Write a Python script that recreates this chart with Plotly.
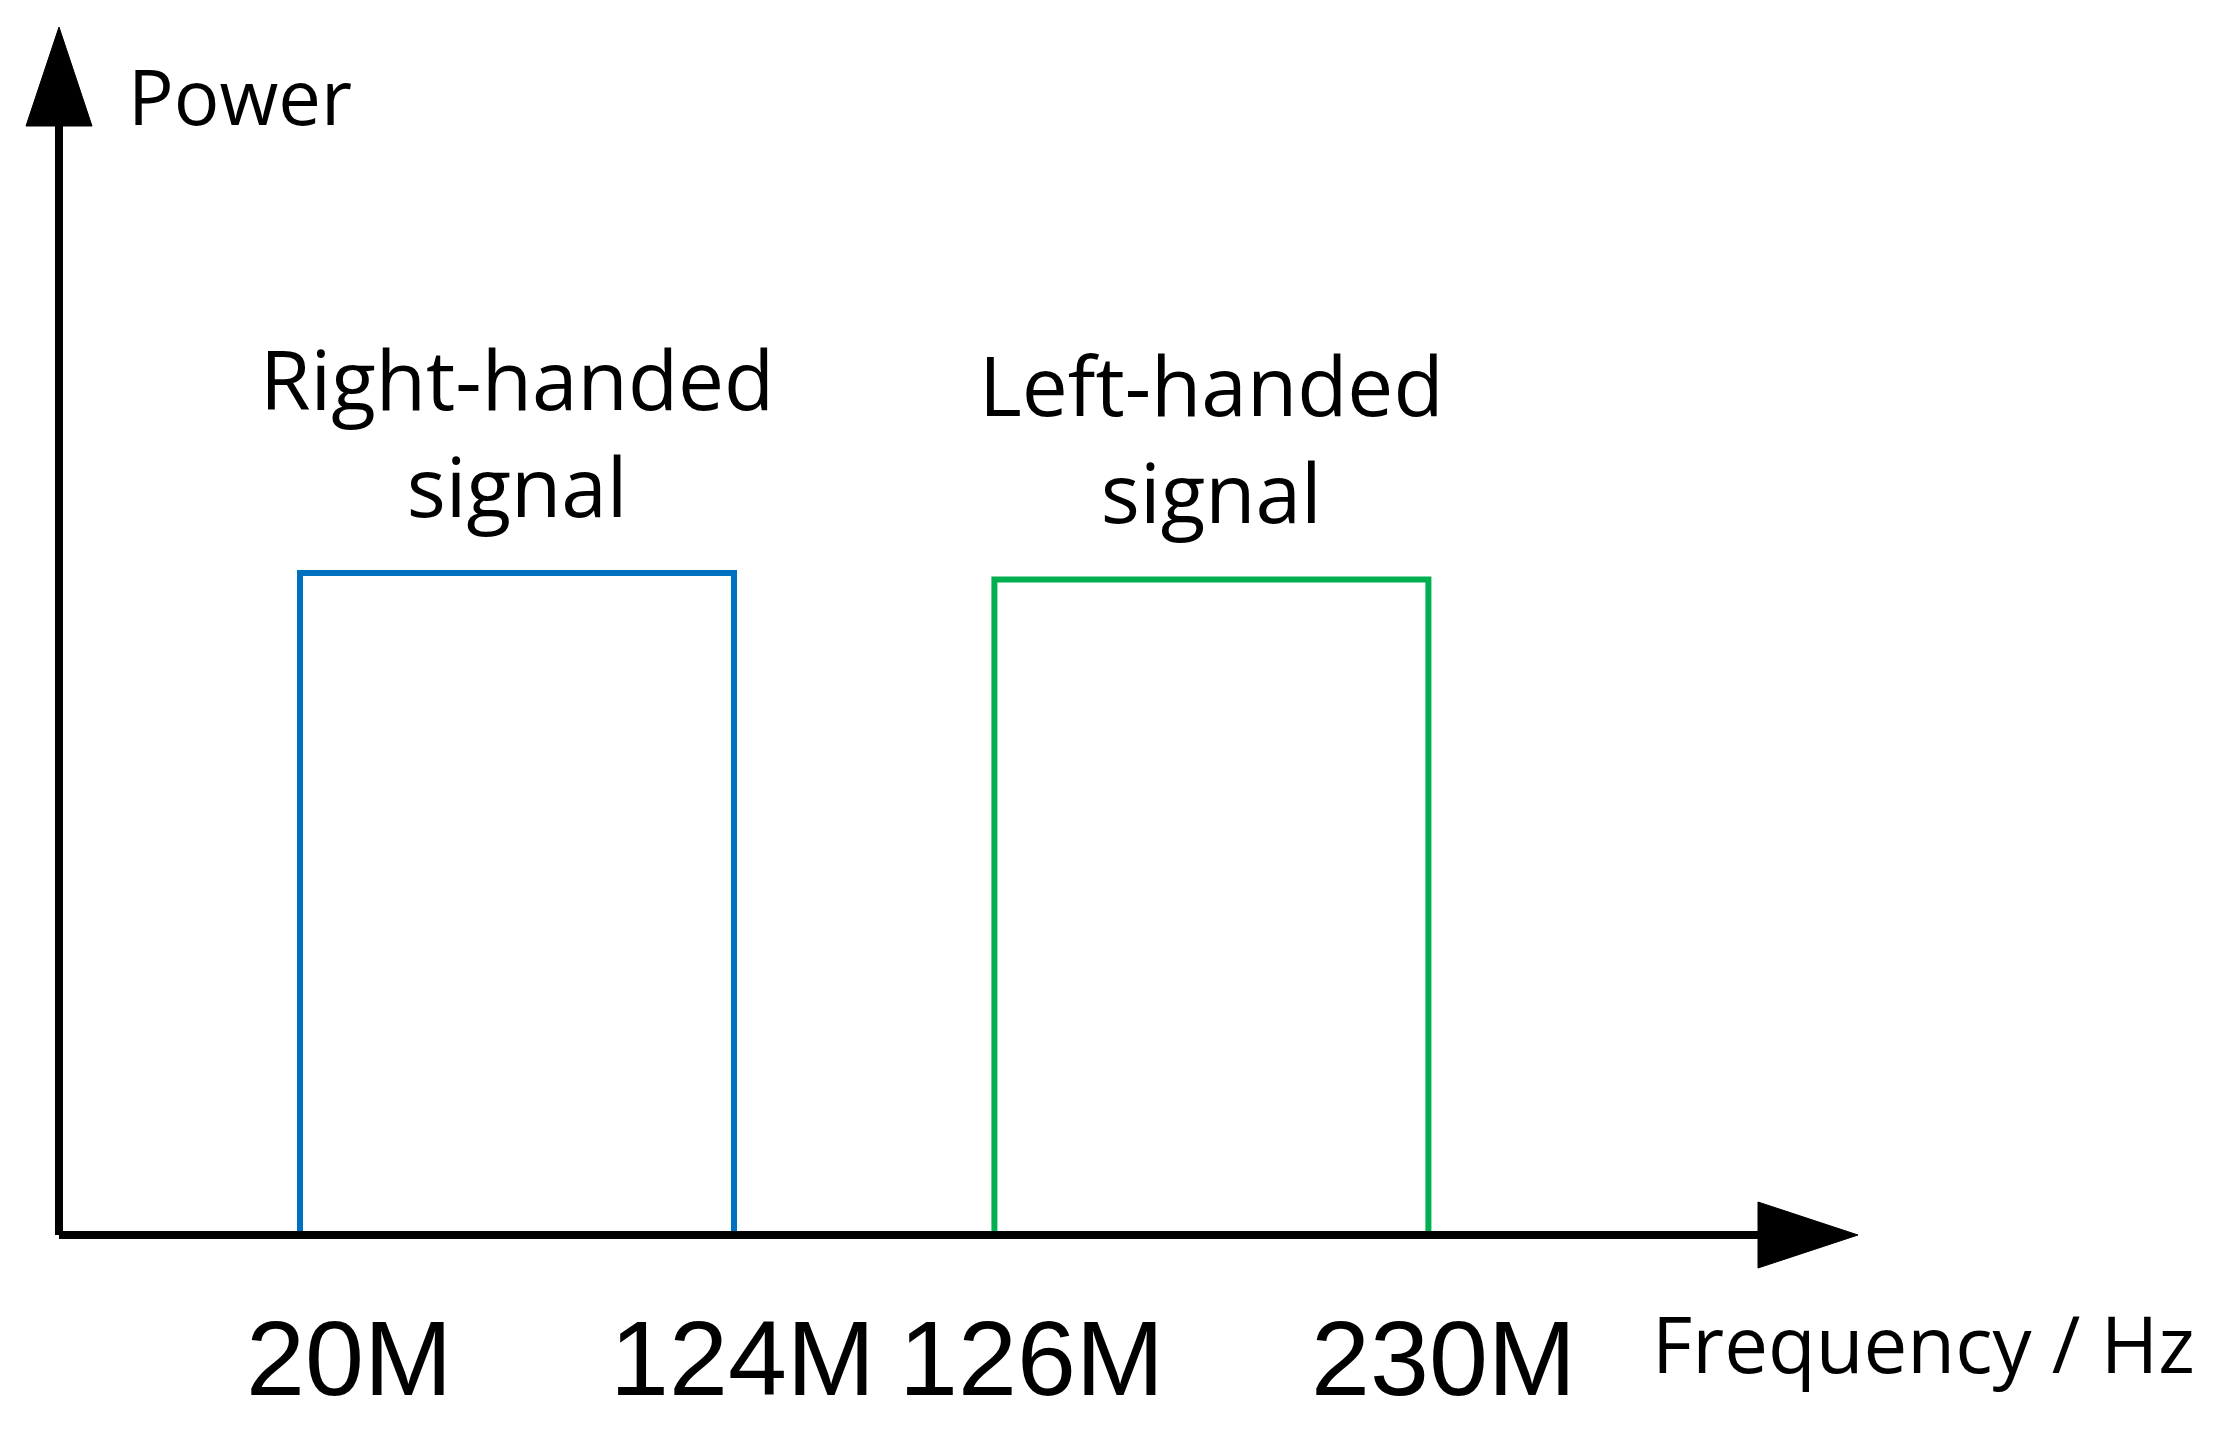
import plotly.graph_objects as go

# band data (frequency edges in MHz, relative power)
band_names = ["Right-handed<br>signal", "Left-handed<br>signal"]
band_lo = [20, 126]
band_hi = [124, 230]
band_power = [1.0, 0.99]
band_colors = ["#0070C0", "#00B050"]
edge_labels = ["20M", "124M", "126M", "230M"]

# schematic (not to scale) x position for each band edge
schem = {20: 0.0, 124: 1.0, 126: 1.6, 230: 2.6}
label_shift = [49, 8, 37, 15]

W, H = 2218, 1432
OFF = 8        # page body margin
px_x = 434.0   # pixels per x unit
px_y = 662.0   # pixels per y unit
x0_px, y0_px = 300 - OFF, 1235 - OFF
x_range = [-x0_px / px_x, (W - x0_px) / px_x]
y_range = [-(H - y0_px) / px_y, y0_px / px_y]

fig = go.Figure()

for name, lo, hi, p, c in zip(band_names, band_lo, band_hi, band_power, band_colors):
    xs = [schem[lo], schem[lo], schem[hi], schem[hi]]
    fig.add_trace(go.Scatter(x=xs, y=[0, p, p, 0], mode='lines',
                             line=dict(color=c, width=6), hoverinfo='skip'))
    fig.add_annotation(x=(schem[lo] + schem[hi]) / 2, y=p, text=name,
                       showarrow=False, yanchor='middle', yshift=142,
                       font=dict(family="Open Sans", size=82, color='black'))

# axes with arrowheads
ax_x = (59 - 300) / px_x
tip_x = (1858 - 300) / px_x
base_x = (1758 - 300) / px_x
tip_y = (1235 - 27) / px_y
base_y = (1235 - 126) / px_y
hw_x = 33 / px_x
hw_y = 33 / px_y

fig.add_shape(type='line', x0=ax_x, y0=0, x1=ax_x, y1=base_y + 0.01,
              line=dict(color='black', width=8))
fig.add_shape(type='line', x0=ax_x, y0=0, x1=base_x + 0.01, y1=0,
              line=dict(color='black', width=8))
fig.add_shape(type='path',
              path=f"M {ax_x - hw_x},{base_y} L {ax_x},{tip_y} L {ax_x + hw_x},{base_y} Z",
              fillcolor='black', line=dict(color='black', width=1))
fig.add_shape(type='path',
              path=f"M {base_x},{hw_y} L {tip_x},0 L {base_x},{-hw_y} Z",
              fillcolor='black', line=dict(color='black', width=1))

# edge labels
edges = sorted(schem.keys())
for f, lab, sh in zip(edges, edge_labels, label_shift):
    fig.add_annotation(x=schem[f], y=(1235 - 1358) / px_y, text=lab,
                       showarrow=False, yanchor='middle', xshift=sh,
                       font=dict(family="Liberation Sans", size=106, color='black'))

fig.add_annotation(xref='paper', yref='paper', x=(126 - OFF) / W, y=1 - (96 - OFF) / H,
                   text="Power", showarrow=False, xanchor='left', yanchor='middle',
                   font=dict(family="Open Sans", size=76, color='black'))
fig.add_annotation(xref='paper', yref='paper', x=(1650 - OFF) / W, y=1 - (1343 - OFF) / H,
                   text="Frequency / Hz", showarrow=False, xanchor='left', yanchor='middle',
                   font=dict(family="Open Sans", size=78, color='black'))

fig.update_layout(width=W, height=H, margin=dict(l=0, r=0, t=0, b=0),
                  plot_bgcolor='white', paper_bgcolor='white', showlegend=False,
                  xaxis=dict(range=x_range, visible=False, fixedrange=True),
                  yaxis=dict(range=y_range, visible=False, fixedrange=True))

fig.write_html("out.html")
